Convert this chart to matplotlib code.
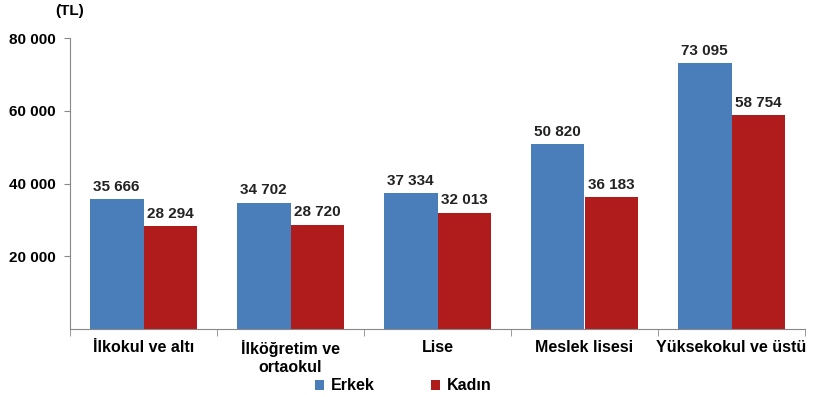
import matplotlib
matplotlib.use("Agg")
import matplotlib.pyplot as plt
import numpy as np

categories = ["İlkokul ve altı", "İlköğretim ve\nortaokul", "Lise", "Meslek lisesi", "Yüksekokul ve üstü"]
erkek = [35666, 34702, 37334, 50820, 73095]
kadin = [28294, 28720, 32013, 36183, 58754]
yticks = [20000, 40000, 60000, 80000]
ytick_labels = ["20 000", "40 000", "60 000", "80 000"]

def fmt(v):
    return f"{v:,}".replace(",", " ")

plt.rcParams['font.family'] = ['Liberation Sans', 'DejaVu Sans']
fig = plt.figure(figsize=(8.16, 3.97), dpi=100)
ax = fig.add_axes([70/816, 1-329/397, 735/816, (329-38)/397])

x = np.arange(len(categories))
w = 0.367
blue = "#4A7EBB"
red = "#B01C1C"
b1 = ax.bar(x - w/2, erkek, w, color=blue, label="Erkek")
b2 = ax.bar(x + w/2, kadin, w, color=red, label="Kadın")
for bars, vals in ((b1, erkek), (b2, kadin)):
    for r, v in zip(bars, vals):
        ax.annotate(fmt(v), (r.get_x() + r.get_width()/2, v), xytext=(0, 4),
                    textcoords="offset points", ha="center", va="bottom",
                    fontsize=11, fontweight="bold", color="#222222")

ax.set_xlim(-0.5, len(categories) - 0.5)
ax.set_ylim(0, 80000)
ax.set_yticks(yticks)
ax.set_yticklabels(ytick_labels, fontsize=11, fontweight="bold")
ax.set_xticks(x)
ax.set_xticklabels(categories, fontsize=11.5, fontweight="bold", linespacing=1.25)
ax.tick_params(axis="x", length=0, pad=8)
ax.set_xticks(np.arange(-0.5, len(categories)), minor=True)
ax.tick_params(axis="x", which="minor", length=5, color="#888888")
ax.tick_params(axis="y", length=4, color="#888888", pad=6)
for s in ("top", "right"):
    ax.spines[s].set_visible(False)
for s in ("left", "bottom"):
    ax.spines[s].set_color("#888888")
ax.text(-0.5, 85500, "(TL)", ha="center", va="bottom", fontsize=11, fontweight="bold")

leg = fig.legend(handles=[b1, b2], labels=["Erkek", "Kadın"], loc="center",
                 bbox_to_anchor=(403/816, 1-386/397), ncol=2, frameon=False,
                 prop={"weight": "bold", "size": 11.5}, handlelength=0.6,
                 handleheight=0.6, columnspacing=3.5, handletextpad=0.4)
fig.savefig("out.png", dpi=100)
